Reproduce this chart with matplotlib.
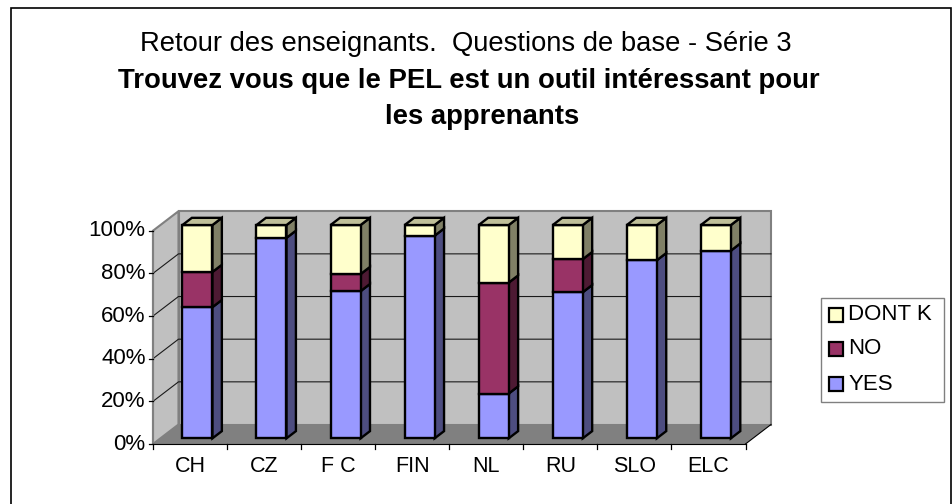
import matplotlib
matplotlib.use("Agg")
import matplotlib.pyplot as plt
from matplotlib.patches import Polygon, Rectangle

plt.rcParams['font.family'] = ['Liberation Sans', 'DejaVu Sans']

categories = ["CH", "CZ", "F C", "FIN", "NL", "RU", "SLO", "ELC"]
yes_values = [61.5, 94, 69, 95, 21, 68.5, 83.5, 88]
no_values = [16.5, 0, 8, 0, 52, 15.5, 0, 0]
dontk_values = [22, 6, 23, 5, 27, 16, 16.5, 12]
series_names = ["YES", "NO", "DONT K"]
y_ticks = [0, 20, 40, 60, 80, 100]

W, H = 952, 504
fig = plt.figure(figsize=(W / 100, H / 100), dpi=100, facecolor="white")

# outer frame (its bottom edge falls below the image, as in the reference)
frame = fig.add_axes([0, 0, 1, 1])
frame.set_xlim(0, W); frame.set_ylim(H, 0); frame.axis("off")
frame.add_patch(Rectangle((11, 8), 939.5, 520, fc="white", ec="black", lw=1.2, clip_on=True))

# plot axes: the front plane of the 3D box
x0, x1, y0, y1 = 153, 745.5, 444, 230.7
ax = fig.add_axes([x0 / W, 1 - y0 / H, (x1 - x0) / W, (y0 - y1) / H])
n = len(categories)
ax.set_xlim(0, n); ax.set_ylim(0, 100)
ax.axis("off")

DX = 25.5 / ((x1 - x0) / n)          # depth offset in category units
DY = 19.5 / ((y0 - y1) / 100)        # depth offset in percent units
C = dict(clip_on=False)

def P(x, y, d):
    return (x + DX * d, y + DY * d)

edge_grey = "#808080"
wall = "#c0c0c0"
# floor
ax.add_patch(Polygon([P(0, 0, 0), P(n, 0, 0), P(n, 0, 1), P(0, 0, 1)], fc="#808080", ec="none", zorder=1, **C))
# side wall
ax.add_patch(Polygon([P(0, 0, 0), P(0, 0, 1), P(0, 100, 1), P(0, 100, 0)], fc=wall, ec=edge_grey, lw=1.5, zorder=1, **C))
# back wall
ax.add_patch(Polygon([P(0, 0, 1), P(n, 0, 1), P(n, 100, 1), P(0, 100, 1)], fc=wall, ec=edge_grey, lw=1.5, zorder=1, **C))
# floor outline (right + front)
ax.plot(*zip(P(n, 0, 0), P(n, 0, 1)), color="black", lw=0.8, zorder=2, **C)
ax.plot(*zip(P(0, 0, 0), P(n, 0, 0)), color="black", lw=0.8, zorder=2, **C)

# gridlines
for t in y_ticks[1:-1]:
    ax.plot(*zip(P(0, t, 0), P(0, t, 1), P(n, t, 1)), color="#1a1a1a", lw=0.8, zorder=2, **C)
# axis lines and ticks
ax.plot(*zip(P(0, 0, 0), P(0, 100, 0)), color=edge_grey, lw=1.5, zorder=2, **C)
for t in y_ticks:
    ax.plot([-0.055, 0], [t, t], color="black", lw=0.9, zorder=2, **C)
    ax.text(-0.1, t, f"{t}%", ha="right", va="center", fontsize=16, color="black")
for i in range(n + 1):
    ax.plot([i, i], [0, -2.2], color="black", lw=0.9, zorder=2, **C)
for i, c in enumerate(categories):
    ax.text(i + 0.5, -10.5, c, ha="center", va="center", fontsize=15.5, color="black")

# bars
fill = ["#9999ff", "#993366", "#ffffcc"]
side = ["#4d4d80", "#4d1a33", "#808066"]
top = "#bfbf99"
w = 0.405
d0, d1 = 0.29, 0.66
lw = 1.7
for i in range(n):
    xl = i + 0.5 - w / 2
    xr = xl + w
    base = 0
    for vals, f, s in zip((yes_values, no_values, dontk_values), fill, side):
        v = vals[i]
        if v <= 0:
            continue
        t = base + v
        ax.add_patch(Polygon([P(xr, base, d0), P(xr, base, d1), P(xr, t, d1), P(xr, t, d0)],
                             fc=s, ec="black", lw=lw, joinstyle="miter", zorder=3, **C))
        ax.add_patch(Polygon([P(xl, base, d0), P(xr, base, d0), P(xr, t, d0), P(xl, t, d0)],
                             fc=f, ec="black", lw=lw, joinstyle="miter", zorder=4, **C))
        base = t
    ax.add_patch(Polygon([P(xl, base, d0), P(xr, base, d0), P(xr, base, d1), P(xl, base, d1)],
                         fc=top, ec="black", lw=lw, joinstyle="miter", zorder=4, **C))

# titles
frame.text(466, 51, "Retour des enseignants.  Questions de base - Série 3", ha="center", va="baseline", fontsize=19.7)
frame.text(469, 88, "Trouvez vous que le PEL est un outil intéressant pour", ha="center", va="baseline", fontsize=19.8, fontweight="bold")
frame.text(482, 124, "les apprenants", ha="center", va="baseline", fontsize=19.8, fontweight="bold")

# legend
frame.add_patch(Rectangle((820.5, 297.5), 123, 104, fc="white", ec="#808080", lw=1))
for yy, name, f in zip((315, 349, 384), series_names[::-1], fill[::-1]):
    frame.add_patch(Rectangle((828.5, yy - 7.3), 14.5, 14.5, fc=f, ec="black", lw=1.6))
    frame.text(848.5, yy, name, ha="left", va="center", fontsize=16)

fig.savefig("out.png", dpi=100)
